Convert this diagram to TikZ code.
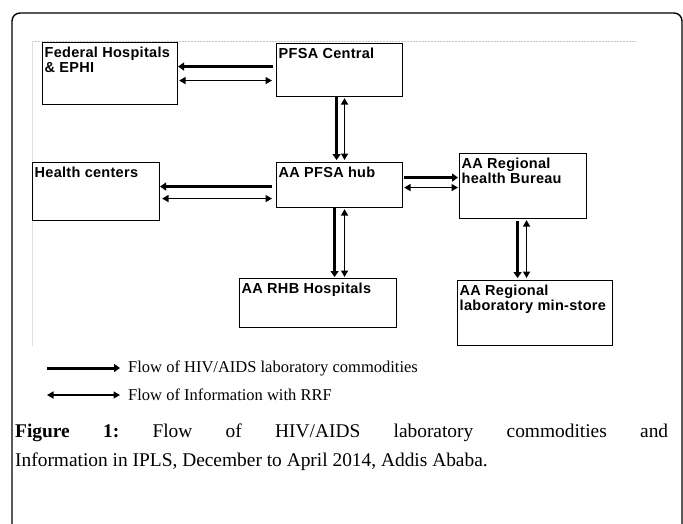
\documentclass[tikz,border=0pt]{standalone}
\usepackage{fontspec}
\setmainfont{Liberation Serif}
\newfontfamily\unitfont[LetterSpace=2]{Liberation Sans}
\usetikzlibrary{arrows.meta}
\frenchspacing

\begin{document}
\begin{tikzpicture}[x=1pt, y=-1pt,
    unit/.style={draw, line width=1.1pt, anchor=north west, inner sep=0pt},
    unitname/.style={anchor=north west, inner xsep=2.5pt, inner ysep=4.5pt, align=left,
        font=\unitfont\bfseries\fontsize{14.5}{15.5}\selectfont},
    flow/.style={line width=3pt, -{Triangle[length=6pt, width=8pt]}},
    info/.style={line width=1.4pt, {Triangle[length=6.5pt, width=7pt]}-{Triangle[length=6.5pt, width=7pt]}},
    legtext/.style={anchor=west, inner sep=0pt, font=\fontsize{16.5}{18}\selectfont}]
    \useasboundingbox (0,0) rectangle (683,523);

    \draw[line width=1.4pt, rounded corners=8pt] (12,540) -- (12,13) -- (682,13) -- (682,540);
    \draw[gray!45, line width=0.7pt, dash pattern=on 2pt off 1pt] (32,41) -- (636,41);
    \draw[gray!25, line width=0.8pt] (32,41) -- (32,346);

    \node[unit, minimum width=135pt, minimum height=62pt] (fed) at (42,42) {};
    \node[unit, minimum width=126pt, minimum height=53pt] (central) at (276,43) {};
    \node[unit, minimum width=127pt, minimum height=58pt] (health) at (32,162) {};
    \node[unit, minimum width=126pt, minimum height=45pt] (hub) at (276,162) {};
    \node[unit, minimum width=127pt, minimum height=65pt] (bureau) at (459,153) {};
    \node[unit, minimum width=157pt, minimum height=49pt] (rhb) at (239,278) {};
    \node[unit, minimum width=155pt, minimum height=65pt] (store) at (457,280) {};

    \node[unitname] (fedname) at (fed.north west) {Federal Hospitals\\\& EPHI};
    \node[unitname] (centralname) at (central.north west) {PFSA Central};
    \node[unitname] (healthname) at (health.north west) {Health centers};
    \node[unitname] (hubname) at (hub.north west) {AA PFSA hub};
    \node[unitname] (bureauname) at (bureau.north west) {AA Regional\\health Bureau};
    \node[unitname] (rhbname) at (rhb.north west) {AA RHB Hospitals};
    \node[unitname] (storename) at (store.north west) {AA Regional\\laboratory min-store};

    \draw[flow, shorten <=3pt] ([yshift=3.5pt]central.west) -- ([yshift=3.5pt]central.west -| fed.east);
    \draw[info, shorten <=1pt, shorten >=4pt] ([yshift=-10.5pt]central.west -| fed.east) -- ([yshift=-10.5pt]central.west);

    \draw[flow, shorten >=2pt] ([xshift=-3pt]central.south) -- ([xshift=-3pt]hub.north);
    \draw[info, shorten <=1pt, shorten >=2pt] ([xshift=5pt]central.south) -- ([xshift=5pt]hub.north);

    \draw[flow, shorten <=4pt] ([yshift=-1.5pt]hub.west) -- ([yshift=-1.5pt]hub.west -| health.east);
    \draw[info, shorten <=2pt, shorten >=4pt] ([yshift=-13.5pt]hub.west -| health.east) -- ([yshift=-13.5pt]hub.west);

    \draw[flow, shorten <=1pt, shorten >=1pt] ([yshift=7.5pt]hub.east) -- ([yshift=7.5pt]hub.east -| bureau.west);
    \draw[info, shorten <=1pt, shorten >=1pt] ([yshift=-2.5pt]hub.east) -- ([yshift=-2.5pt]hub.east -| bureau.west);

    \draw[flow, shorten >=1pt] ([xshift=-5pt]hub.south) -- ([xshift=-5pt]hub.south |- rhb.north);
    \draw[info, shorten <=1pt, shorten >=1pt] ([xshift=5pt]hub.south) -- ([xshift=5pt]hub.south |- rhb.north);

    \draw[flow, shorten <=2pt, shorten >=2pt] ([xshift=-5.5pt]bureau.south) -- ([xshift=-5.5pt]bureau.south |- store.north);
    \draw[info, shorten <=1pt, shorten >=2pt] ([xshift=3.5pt]bureau.south) -- ([xshift=3.5pt]bureau.south |- store.north);

    \node[legtext] (legflow) at (128,368) {Flow of HIV/AIDS laboratory commodities};
    \node[legtext] (leginfo) at (128,395) {Flow of Information with RRF};
    \coordinate (legflowtail) at (47,368);
    \coordinate (leginfotail) at (47,395);
    \draw[flow, shorten >=8pt] (legflowtail) -- (legflow.west);
    \draw[info, shorten >=8pt] (leginfotail) -- (leginfo.west);

    \node[anchor=north west, inner sep=0pt, text width=653pt, align=justify,
        font=\fontsize{19.4}{29}\selectfont] (caption) at (15,424)
        {\textbf{Figure 1:} Flow of HIV/AIDS laboratory commodities and\linebreak
        Information in IPLS, December to April 2014, Addis Ababa.};
\end{tikzpicture}
\end{document}
